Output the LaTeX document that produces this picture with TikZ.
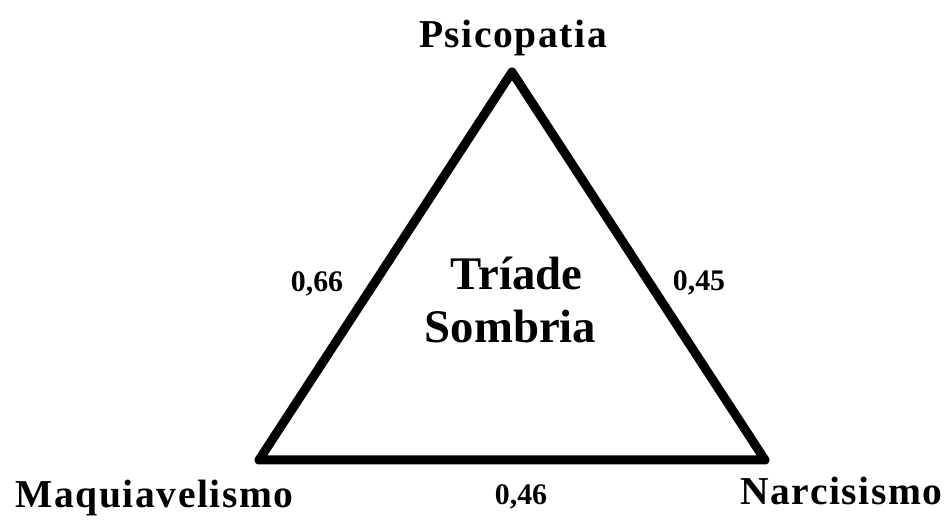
\documentclass[tikz,border=0pt]{standalone}
\usepackage{fontspec}
\setmainfont{Liberation Serif}
\newfontfamily\spacedfont{Liberation Serif}[LetterSpace=4]
\tikzset{
  vertex/.style = {font=\spacedfont\bfseries\fontsize{22.5}{25}\selectfont,
                   inner sep=0pt, anchor=base},
  weight/.style = {font=\bfseries\fontsize{17}{20}\selectfont,
                   inner sep=0pt, anchor=base},
  centre/.style = {font=\bfseries\fontsize{26.6}{30}\selectfont,
                   inner sep=0pt, anchor=base},
  side/.style   = {draw=black, line width=0.18cm, line join=round}
}
\begin{document}
\begin{tikzpicture}
\useasboundingbox (0,0) rectangle (18.98,10.42);
% corners of the triad
\coordinate (psi) at (10.24,8.98);
\coordinate (maq) at (5.18,1.22);
\coordinate (nar) at (15.30,1.22);
\draw[side] (psi) -- (maq) -- (nar) -- cycle;
% traits
\node[vertex] (psilabel) at (10.26,9.46) {Psicopatia};
\node[vertex] (maqlabel) at (3.09,0.26) {Maquiavelismo};
\node[vertex] (narlabel) at (16.83,0.32) {Narcisismo};
% correlations
\node[weight] (wpm) at (6.34,4.58) {0,66};
\node[weight] (wpn) at (13.98,4.60) {0,45};
\node[weight] (wmn) at (10.42,0.32) {0,46};
% title
\node[centre] (triade) at (10.33,4.62) {Tríade};
\node[centre] (sombria) at (10.21,3.56) {Sombria};
\end{tikzpicture}
\end{document}
